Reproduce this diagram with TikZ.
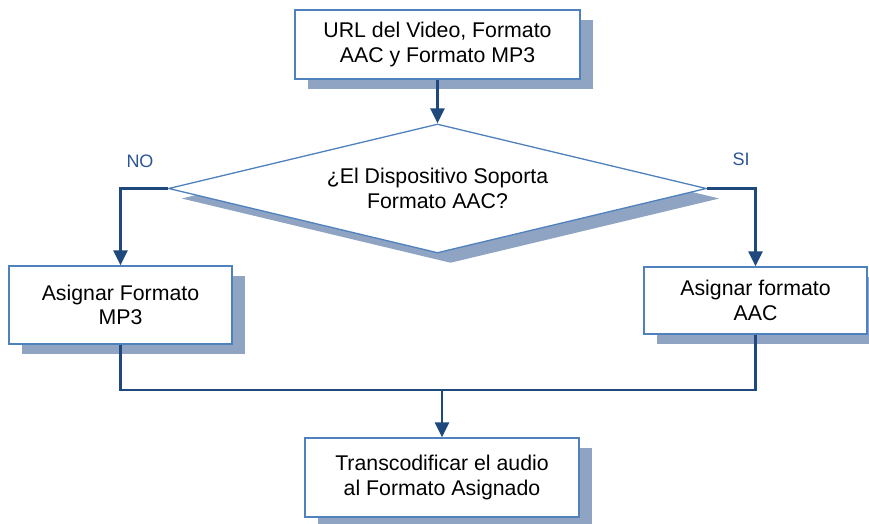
\documentclass[tikz,border=0pt]{standalone}
\usepackage{fontspec}
\setmainfont{Liberation Sans}
\usetikzlibrary{shapes.geometric,shadows,arrows.meta}
\definecolor{boxline}{HTML}{4F81BD}
\definecolor{shadowc}{HTML}{8EA4C2}
\definecolor{arrowc}{HTML}{1F497D}
\definecolor{labelc}{HTML}{2C5597}
\tikzset{
  boxbase/.style={draw=boxline, line width=1.3pt, fill=white, align=center, inner sep=0pt,
    font=\fontsize{21.3}{24.5}\selectfont,
    general shadow={shadow xshift=13pt, shadow yshift=-10pt, fill=shadowc}},
  procbox/.style={boxbase, rectangle},
  decbox/.style={boxbase, diamond, aspect=4.17},
  conn/.style={draw=arrowc, line width=2.7pt},
  arr/.style={conn, -{Triangle[length=15pt,width=14pt]}},
  lbl/.style={text=labelc, font=\fontsize{18}{21}\selectfont}
}
\begin{document}
\begin{tikzpicture}[x=1pt,y=-1pt]
\useasboundingbox (0,0) rectangle (869,524);
\node[procbox, minimum width=285pt, minimum height=69pt] (top) at (437.5,44.5) {URL del Video, Formato\\AAC y Formato MP3};
\node[decbox, minimum width=538pt, minimum height=129pt] (dia) at (437.5,188.5) {¿El Dispositivo Soporta\\Formato AAC?};
\node[procbox, minimum width=223pt, minimum height=78pt] (left) at (120.5,305) {Asignar Formato\\MP3};
\node[procbox, minimum width=223pt, minimum height=67pt] (right) at (755.5,300.5) {Asignar formato\\AAC};
\node[procbox, minimum width=274pt, minimum height=79pt] (bot) at (442,477.5) {Transcodificar el audio\\al Formato Asignado};
\coordinate (m) at (442,390);
\node[lbl] (no) at (140,161) {NO};
\node[lbl] (si) at (741,159) {SI};
\draw[arr] (top.south) -- (dia.north);
\draw[arr] (dia.west) -| (left.north);
\draw[arr] (dia.east) -| (right.north);
\draw[conn] (left.south) |- (m);
\draw[conn] (right.south) |- (m);
\draw[arr] (m) -- (bot.north);
\end{tikzpicture}
\end{document}
